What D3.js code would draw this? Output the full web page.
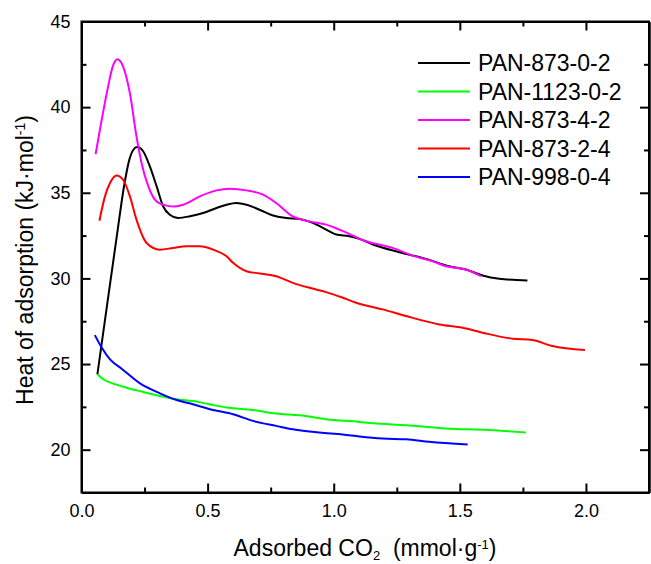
<!DOCTYPE html>
<html>
<head>
<meta charset="utf-8">
<script src="https://cdn.jsdelivr.net/npm/d3@7"></script>
<style>
  html, body { margin: 0; padding: 0; background: #fff; }
  svg { display: block; font-family: "Liberation Sans", Arial, sans-serif; }
</style>
</head>
<body>
<svg id="chart" width="651" height="564"></svg>
<script>
// Isosteric heat of CO2 adsorption for the PAN-derived carbons
const seriesNames = ["PAN-873-0-2", "PAN-1123-0-2", "PAN-873-4-2", "PAN-873-2-4", "PAN-998-0-4"];

// Adsorbed CO2 (mmol/g) and heat of adsorption (kJ/mol) per sample
const pan873_0_2_x = [0.063, 0.100, 0.140, 0.170, 0.190, 0.205, 0.221, 0.245, 0.271, 0.298, 0.324, 0.350, 0.383, 0.430, 0.482, 0.535, 0.575, 0.614, 0.654, 0.706, 0.759, 0.812, 0.865, 0.917, 0.970, 1.010, 1.062, 1.102, 1.155, 1.260, 1.366, 1.458, 1.524, 1.590, 1.656, 1.768];
const pan873_0_2_y = [24.40, 28.30, 32.47, 35.50, 36.95, 37.50, 37.67, 37.41, 36.54, 35.37, 34.20, 33.72, 33.53, 33.63, 33.82, 34.11, 34.30, 34.40, 34.30, 34.01, 33.67, 33.53, 33.47, 33.24, 32.85, 32.56, 32.46, 32.31, 31.98, 31.53, 31.14, 30.71, 30.52, 30.17, 29.98, 29.88];

const pan1123_0_2_x = [0.063, 0.086, 0.126, 0.179, 0.245, 0.311, 0.377, 0.442, 0.508, 0.575, 0.680, 0.772, 0.865, 0.970, 1.102, 1.155, 1.287, 1.445, 1.617, 1.762];
const pan1123_0_2_y = [24.40, 24.11, 23.86, 23.62, 23.37, 23.13, 22.94, 22.84, 22.65, 22.46, 22.32, 22.11, 22.01, 21.78, 21.62, 21.54, 21.43, 21.24, 21.15, 21.00];

const pan873_4_2_x = [0.056, 0.073, 0.100, 0.126, 0.142, 0.165, 0.192, 0.218, 0.238, 0.265, 0.297, 0.337, 0.370, 0.403, 0.469, 0.535, 0.588, 0.654, 0.720, 0.772, 0.838, 0.904, 0.970, 1.023, 1.129, 1.234, 1.313, 1.392, 1.445, 1.524, 1.584];
const pan873_4_2_y = [37.26, 38.68, 40.80, 42.47, 42.80, 42.37, 40.80, 38.29, 36.74, 35.37, 34.50, 34.25, 34.20, 34.30, 34.79, 35.14, 35.24, 35.14, 34.89, 34.40, 33.62, 33.33, 33.14, 32.85, 32.17, 31.78, 31.33, 31.00, 30.71, 30.52, 30.13];

const pan873_2_4_x = [0.071, 0.093, 0.113, 0.139, 0.165, 0.192, 0.218, 0.258, 0.311, 0.363, 0.416, 0.469, 0.522, 0.575, 0.601, 0.654, 0.706, 0.772, 0.838, 0.904, 0.970, 1.036, 1.089, 1.194, 1.287, 1.419, 1.511, 1.590, 1.709, 1.788, 1.867, 1.996];
const pan873_2_4_y = [33.37, 34.79, 35.57, 36.01, 35.76, 34.79, 33.43, 32.07, 31.68, 31.78, 31.88, 31.88, 31.68, 31.29, 30.91, 30.42, 30.29, 30.13, 29.74, 29.45, 29.20, 28.87, 28.58, 28.19, 27.80, 27.31, 27.12, 26.83, 26.48, 26.40, 26.05, 25.82];

const pan998_0_4_x = [0.053, 0.080, 0.113, 0.159, 0.232, 0.311, 0.377, 0.442, 0.522, 0.601, 0.680, 0.772, 0.838, 0.944, 1.036, 1.102, 1.194, 1.287, 1.379, 1.531];
const pan998_0_4_y = [26.69, 25.96, 25.27, 24.73, 23.87, 23.29, 22.90, 22.65, 22.32, 22.07, 21.68, 21.39, 21.19, 21.00, 20.89, 20.77, 20.65, 20.61, 20.46, 20.30];

// Axis ticks
const xMajorTicks = [0.0, 0.5, 1.0, 1.5, 2.0];
const xMinorTicks = [0.25, 0.75, 1.25, 1.75];
const yMajorTicks = [20, 25, 30, 35, 40, 45];
const yMinorTicks = [22.5, 27.5, 32.5, 37.5, 42.5];

const seriesX = [pan873_0_2_x, pan1123_0_2_x, pan873_4_2_x, pan873_2_4_x, pan998_0_4_x];
const seriesY = [pan873_0_2_y, pan1123_0_2_y, pan873_4_2_y, pan873_2_4_y, pan998_0_4_y];
const lineColors = ["#000000", "#00ff00", "#ff00ff", "#ff0000", "#0000ff"];

const svg = d3.select("#chart");
const plotLeft = 81.5, plotRight = 649, plotTop = 21.5, plotBottom = 492.5;

const x = d3.scaleLinear().domain([0, 2.25]).range([plotLeft, plotRight]);
const y = d3.scaleLinear().domain([17.5, 45]).range([plotBottom, plotTop]);

// curves
const line = d3.line()
  .x(d => x(d[0]))
  .y(d => y(d[1]))
  .curve(d3.curveMonotoneX);

const plot = svg.append("g");
seriesNames.forEach((name, i) => {
  const pts = seriesX[i].map((v, j) => [v, seriesY[i][j]]);
  plot.append("path")
    .datum(pts)
    .attr("fill", "none")
    .attr("stroke", lineColors[i])
    .attr("stroke-width", 2)
    .attr("stroke-linejoin", "round")
    .attr("d", line);
});

// axes with inward ticks on all four sides
function styleAxis(g) {
  g.select(".domain").attr("stroke-width", 2).attr("stroke", "#000");
  g.selectAll(".tick line").attr("stroke-width", 2).attr("stroke", "#000");
  g.selectAll(".tick text").attr("fill", "#000");
}

const fmt = d3.format(".1f");
const labelFont = "Liberation Sans, Arial, sans-serif";

svg.append("g")
  .attr("transform", `translate(0,${plotBottom})`)
  .call(d3.axisBottom(x).tickValues(xMajorTicks).tickFormat(fmt)
        .tickSizeInner(-9).tickSizeOuter(0).tickPadding(12))
  .call(styleAxis)
  .call(g => g.selectAll(".tick text").attr("font-size", 18).attr("font-family", labelFont));

svg.append("g")
  .attr("transform", `translate(0,${plotBottom})`)
  .call(d3.axisBottom(x).tickValues(xMinorTicks).tickFormat("")
        .tickSizeInner(-5).tickSizeOuter(0))
  .call(styleAxis);

svg.append("g")
  .attr("transform", `translate(0,${plotTop})`)
  .call(d3.axisTop(x).tickValues(xMajorTicks).tickFormat("")
        .tickSizeInner(-9).tickSizeOuter(0))
  .call(styleAxis);

svg.append("g")
  .attr("transform", `translate(0,${plotTop})`)
  .call(d3.axisTop(x).tickValues(xMinorTicks).tickFormat("")
        .tickSizeInner(-5).tickSizeOuter(0))
  .call(styleAxis);

svg.append("g")
  .attr("transform", `translate(${plotLeft},0)`)
  .call(d3.axisLeft(y).tickValues(yMajorTicks).tickFormat(d3.format("d"))
        .tickSizeInner(-9).tickSizeOuter(0).tickPadding(11))
  .call(styleAxis)
  .call(g => g.selectAll(".tick text").attr("font-size", 18).attr("font-family", labelFont));

svg.append("g")
  .attr("transform", `translate(${plotLeft},0)`)
  .call(d3.axisLeft(y).tickValues(yMinorTicks).tickFormat("")
        .tickSizeInner(-5).tickSizeOuter(0))
  .call(styleAxis);

svg.append("g")
  .attr("transform", `translate(${plotRight},0)`)
  .call(d3.axisRight(y).tickValues(yMajorTicks).tickFormat("")
        .tickSizeInner(-9).tickSizeOuter(0))
  .call(styleAxis);

svg.append("g")
  .attr("transform", `translate(${plotRight},0)`)
  .call(d3.axisRight(y).tickValues(yMinorTicks).tickFormat("")
        .tickSizeInner(-5).tickSizeOuter(0))
  .call(styleAxis);

// frame
svg.append("rect")
  .attr("x", plotLeft).attr("y", plotTop)
  .attr("width", plotRight - plotLeft).attr("height", plotBottom - plotTop)
  .attr("fill", "none").attr("stroke", "#000").attr("stroke-width", 2);

// axis titles
const xTitle = svg.append("text")
  .attr("x", 365).attr("y", 556)
  .attr("text-anchor", "middle")
  .attr("font-size", 23)
  .style("white-space", "pre");
xTitle.append("tspan").text("Adsorbed CO");
xTitle.append("tspan").attr("font-size", 13).attr("dy", "0.3em").text("2");
xTitle.append("tspan").attr("dy", "-0.17em").text("  (mmol·g");
xTitle.append("tspan").attr("font-size", 13).attr("dy", "-0.55em").text("-1");
xTitle.append("tspan").attr("dy", "0.31em").text(")");

const yTitle = svg.append("text")
  .attr("transform", "translate(33,260) rotate(-90)")
  .attr("text-anchor", "middle")
  .attr("font-size", 23);
yTitle.append("tspan").text("Heat of adsorption (kJ·mol");
yTitle.append("tspan").attr("font-size", 14).attr("dy", "-0.55em").text("-1");
yTitle.append("tspan").attr("dy", "0.33em").text(")");

// legend
const legend = svg.append("g");
const legendY = d3.scalePoint().domain(seriesNames).range([63, 177]);
seriesNames.forEach((name, i) => {
  const ly = legendY(name);
  legend.append("line")
    .attr("x1", 418).attr("x2", 470)
    .attr("y1", ly).attr("y2", ly)
    .attr("stroke", lineColors[i]).attr("stroke-width", 2);
  legend.append("text")
    .attr("x", 478).attr("y", ly).attr("dy", "0.35em")
    .attr("font-size", 23)
    .text(name);
});
</script>
</body>
</html>
